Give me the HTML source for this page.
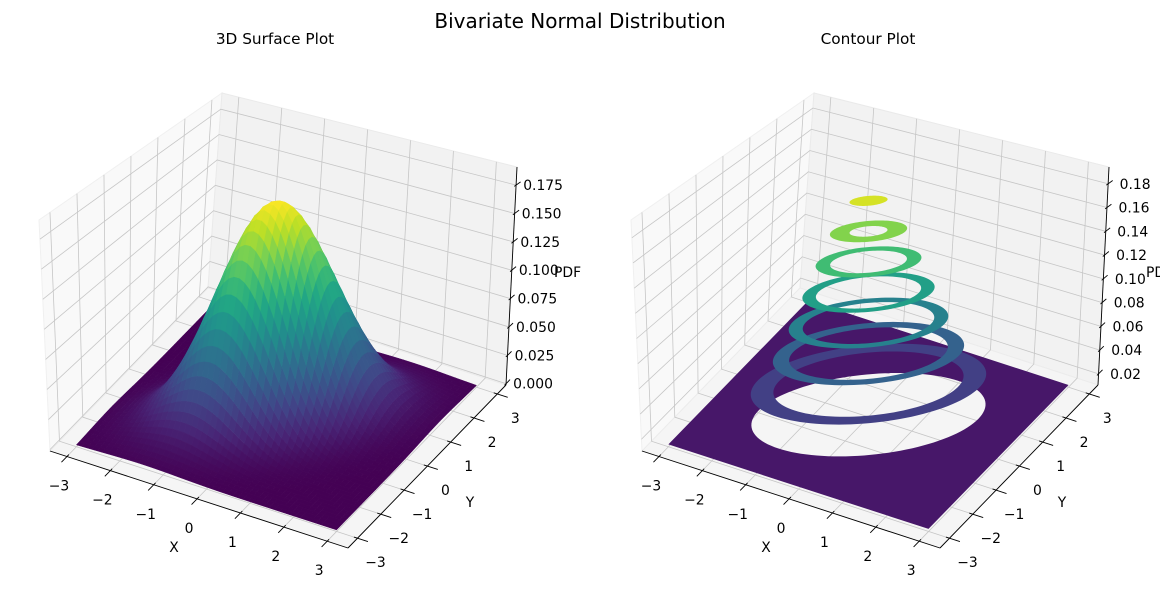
<!DOCTYPE html>
<html><head><meta charset="utf-8">
<style>
html,body{margin:0;padding:0;background:#fff;}
svg{display:block;font-family:"DejaVu Sans","Liberation Sans",sans-serif;}
</style></head>
<body>
<svg id="fig" width="1160" height="593" viewBox="0 0 1160 593" xmlns="http://www.w3.org/2000/svg">
<text x="580" y="28" font-size="20" text-anchor="middle">Bivariate Normal Distribution</text>
<text x="275" y="44" font-size="15.3" text-anchor="middle">3D Surface Plot</text>
<text x="868" y="44" font-size="15.3" text-anchor="middle">Contour Plot</text>
<g id="left"></g>
<g id="right"></g>
</svg>
<script>
// ---- data ----
const xTicks = [-3, -2, -1, 0, 1, 2, 3];
const yTicks = [-3, -2, -1, 0, 1, 2, 3];
const zTicksSurface = [0, 0.025, 0.05, 0.075, 0.1, 0.125, 0.15, 0.175];
const zTickLabelsSurface = ["0.000","0.025","0.050","0.075","0.100","0.125","0.150","0.175"];
const zTicksContour = [0.02, 0.04, 0.06, 0.08, 0.1, 0.12, 0.14, 0.16, 0.18];
const zTickLabelsContour = ["0.02","0.04","0.06","0.08","0.10","0.12","0.14","0.16","0.18"];
const contourLevels = [0, 0.025, 0.05, 0.075, 0.1, 0.125, 0.15, 0.175, 0.2];
const distMean = [0, 0];
const distCov = [[1, 0.5], [0.5, 1]];
const gridRange = [-3, 3];
const gridCells = [50];

const NS = "http://www.w3.org/2000/svg";
const viridisStops = ["#440154","#482475","#414487","#355f8d","#2a788e","#21918c","#22a884","#44bf70","#7ad151","#bddf26","#fde725"];
function hex(c){return [parseInt(c.substr(1,2),16),parseInt(c.substr(3,2),16),parseInt(c.substr(5,2),16)];}
function viridis(t){
  t=Math.max(0,Math.min(1,t));const s=t*10;const i=Math.min(9,Math.floor(s));const f=s-i;
  const a=hex(viridisStops[i]),b=hex(viridisStops[i+1]);
  return "rgb("+a.map((v,k)=>Math.round(v+(b[k]-v)*f)).join(",")+")";
}
const corners = {L:[50,451],F:[348,548],R:[506,385],B:[208,288],LT:[39,220],FT:[334,294],RT:[517,167],BT:[222,93]};
function makeProj(dx){
  return function(u,v,w){
    const c=corners;
    const b0=[0,1].map(k=>(1-u)*(1-v)*c.L[k]+u*(1-v)*c.F[k]+u*v*c.R[k]+(1-u)*v*c.B[k]);
    const b1=[0,1].map(k=>(1-u)*(1-v)*c.LT[k]+u*(1-v)*c.FT[k]+u*v*c.RT[k]+(1-u)*v*c.BT[k]);
    return [(1-w)*b0[0]+w*b1[0]+dx,(1-w)*b0[1]+w*b1[1]];
  };
}
const ux = x => 0.057 + (x+3)/6*0.873;
const vy = y => 0.06 + (y+3)/6*0.885;
const wzL = z => 0.006 + z*5.206;
const wzR = z => -0.058 + z*5.45;

const rho = distCov[0][1]/Math.sqrt(distCov[0][0]*distCov[1][1]);
const det = 1-rho*rho;
const peak = 1/(2*Math.PI*Math.sqrt(distCov[0][0]*distCov[1][1]*det));
function pdf(x,y){
  const a=(x-distMean[0])/Math.sqrt(distCov[0][0]), b=(y-distMean[1])/Math.sqrt(distCov[1][1]);
  return peak*Math.exp(-(a*a-2*rho*a*b+b*b)/(2*det));
}
function el(parent,tag,attrs){const e=document.createElementNS(NS,tag);for(const k in attrs)e.setAttribute(k,attrs[k]);parent.appendChild(e);return e;}
function pts(a){return a.map(p=>p[0].toFixed(2)+","+p[1].toFixed(2)).join(" ");}

function drawAxes(g,P,wz,zTicks){
  let e;
  e=el(g,"polygon",{points:pts([P(0,0,0),P(0,1,0),P(0,1,1),P(0,0,1)]),fill:"#f9f9f9",stroke:"#f0f0f0"});
  
  
  e=el(g,"polygon",{points:pts([P(0,1,0),P(1,1,0),P(1,1,1),P(0,1,1)]),fill:"#f2f2f2",stroke:"#eaeaea"});
  
  
  e=el(g,"polygon",{points:pts([P(0,0,0),P(1,0,0),P(1,1,0),P(0,1,0)]),fill:"#f5f5f5",stroke:"#ececec"});
  
  
  const gs={stroke:"#c6c6c6","stroke-width":0.8,fill:"none"};
  xTicks.forEach(x=>{const u=ux(x);
    e=el(g,"polyline",Object.assign({points:pts([P(u,0,0),P(u,1,0),P(u,1,1)])},gs));
    
    });
  yTicks.forEach(y=>{const v=vy(y);
    e=el(g,"polyline",Object.assign({points:pts([P(1,v,0),P(0,v,0),P(0,v,1)])},gs));
    
    });
  zTicks.forEach(z=>{const w=wz(z);
    e=el(g,"polyline",Object.assign({points:pts([P(0,0,w),P(0,1,w),P(1,1,w)])},gs));
    
    });
}
function drawAxisLines(g,P,wz,zTicks,zLabels){
  let e;
  const ls={stroke:"#000","stroke-width":0.9,fill:"none"};
  e=el(g,"line",Object.assign({x1:P(0,0,0)[0],y1:P(0,0,0)[1],x2:P(1,0,0)[0],y2:P(1,0,0)[1]},ls));
  
  
  e=el(g,"line",Object.assign({x1:P(1,0,0)[0],y1:P(1,0,0)[1],x2:P(1,1,0)[0],y2:P(1,1,0)[1]},ls));
  
  
  e=el(g,"line",Object.assign({x1:P(1,1,0)[0],y1:P(1,1,0)[1],x2:P(1,1,1)[0],y2:P(1,1,1)[1]},ls));
  
  
  xTicks.forEach(x=>{const u=ux(x);const a=P(u,0.012,0),b=P(u,-0.035,0);
    e=el(g,"line",Object.assign({x1:a[0],y1:a[1],x2:b[0],y2:b[1]},ls));
    
    
    const p=P(u,0,0);
    e=el(g,"text",{x:p[0]-8,y:p[1]+30,"font-size":13.9,"text-anchor":"middle","dominant-baseline":"central"});
    e.textContent=(x<0?"\u2212":"")+Math.abs(x);
    
    });
  yTicks.forEach(y=>{const v=vy(y);const a=P(0.988,v,0),b=P(1.035,v,0);
    e=el(g,"line",Object.assign({x1:a[0],y1:a[1],x2:b[0],y2:b[1]},ls));
    
    
    const p=P(1,v,0);
    e=el(g,"text",{x:p[0]+18,y:p[1]+25,"font-size":13.9,"text-anchor":"middle","dominant-baseline":"central"});
    e.textContent=(y<0?"\u2212":"")+Math.abs(y);
    
    });
  zTicks.forEach((z,i)=>{const w=wz(z);const a=P(1,0.99,w),b=P(1,1.025,w);
    e=el(g,"line",Object.assign({x1:a[0],y1:a[1],x2:b[0],y2:b[1]},ls));
    
    
    const p=P(1,1,w);
    e=el(g,"text",{x:p[0]+27,y:p[1]+1,"font-size":13.9,"text-anchor":"middle","dominant-baseline":"central"});
    e.textContent=zLabels[i];
    
    });
}
function axisTitles(g,dx){
  let e;
  e=el(g,"text",{x:174+dx,y:552,"font-size":13.9,"text-anchor":"middle"});e.textContent="X";
  
  
  e=el(g,"text",{x:470+dx,y:507,"font-size":13.9,"text-anchor":"middle"});e.textContent="Y";
  
  
  e=el(g,"text",{x:554+dx,y:277,"font-size":13.9}); e.textContent="PDF";
  
  
}

// ---- left: surface ----
(function(){
  const g=document.getElementById("left");const P=makeProj(0);
  drawAxes(g,P,wzL,zTicksSurface);
  const N=gridCells[0];const lo=gridRange[0],hi=gridRange[1];
  const xs=[];for(let i=0;i<=N;i++)xs.push(lo+(hi-lo)*i/N);
  const Z=xs.map(x=>xs.map(y=>pdf(x,y)));
  let zmin=Infinity,zmax=-Infinity;Z.forEach(r=>r.forEach(z=>{zmin=Math.min(zmin,z);zmax=Math.max(zmax,z);}));
  const faces=[];
  for(let i=0;i<N;i++)for(let j=0;j<N;j++){
    const za=(Z[i][j]+Z[i+1][j]+Z[i+1][j+1]+Z[i][j+1])/4;
    const uc=ux((xs[i]+xs[i+1])/2),vc=vy((xs[j]+xs[j+1])/2);
    faces.push({i,j,za,key:0.5*uc-0.866*vc+0.6*wzL(za)});
  }
  faces.sort((a,b)=>a.key-b.key);
  const sg=el(g,"g",{});
  
  
  faces.forEach(f=>{
    const {i,j}=f;
    const q=[[i,j],[i+1,j],[i+1,j+1],[i,j+1]].map(([a,b])=>P(ux(xs[a]),vy(xs[b]),wzL(Z[a][b])));
    const col=viridis((f.za-zmin)/(zmax-zmin));
    const p=el(sg,"polygon",{points:pts(q),fill:col,stroke:col,"stroke-width":0.45});
    
    
  });
  drawAxisLines(g,P,wzL,zTicksSurface,zTickLabelsSurface);
  axisTitles(g,0);
})();

// ---- right: filled contours ----
(function(){
  const dx=592;const g=document.getElementById("right");const P=makeProj(dx);
  drawAxes(g,P,wzR,zTicksContour);
  const sd=Math.sqrt(det);
  function ellipse(level,w){
    if(level>=peak)return null;
    const r=Math.sqrt(-2*Math.log(level/peak));
    const out=[];
    for(let k=0;k<120;k++){const t=2*Math.PI*k/120;
      const a=r*Math.cos(t),b=r*Math.sin(t);
      const x=distMean[0]+a*Math.sqrt(distCov[0][0]);
      const y=distMean[1]+(rho*a+sd*b)*Math.sqrt(distCov[1][1]);
      out.push(P(ux(Math.max(-3,Math.min(3,x))),vy(Math.max(-3,Math.min(3,y))),w));}
    return out;
  }
  const vmax=contourLevels[contourLevels.length-1],vmin=contourLevels[0];
  const cg=el(g,"g",{});
  
  
  for(let i=0;i<contourLevels.length-1;i++){
    const a=contourLevels[i],b=contourLevels[i+1];
    if(a>=peak)break;
    const mid=(a+b)/2,w=wzR(mid);
    let d="";
    if(a<=0){
      const sq=[P(ux(-3),vy(-3),w),P(ux(3),vy(-3),w),P(ux(3),vy(3),w),P(ux(-3),vy(3),w)];
      d+="M"+sq.map(p=>p[0].toFixed(2)+","+p[1].toFixed(2)).join("L")+"Z";
    } else {
      const o=ellipse(a,w);d+="M"+o.map(p=>p[0].toFixed(2)+","+p[1].toFixed(2)).join("L")+"Z";
    }
    const inn=ellipse(b,w);
    if(inn)d+="M"+inn.map(p=>p[0].toFixed(2)+","+p[1].toFixed(2)).join("L")+"Z";
    const p=el(cg,"path",{d:d,fill:viridis((mid-vmin)/(vmax-vmin)),"fill-rule":"evenodd"});
    
    
  }
  drawAxisLines(g,P,wzR,zTicksContour,zTickLabelsContour);
  axisTitles(g,dx);
})();
</script>
</body></html>
